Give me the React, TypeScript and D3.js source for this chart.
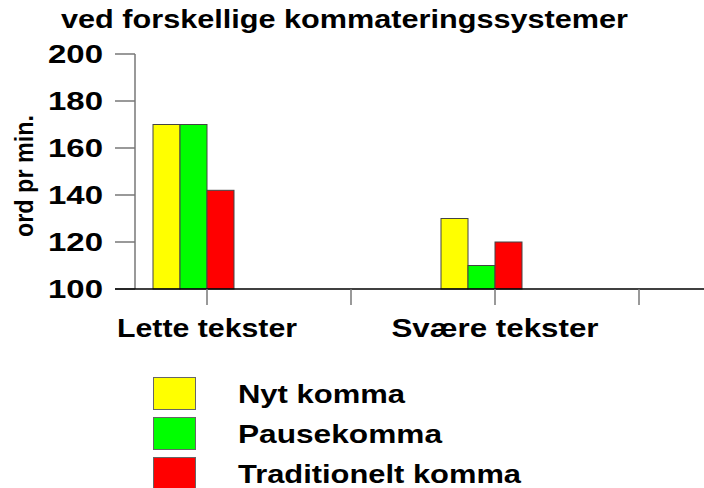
import * as d3 from 'd3'

const categories = ['Lette tekster', ' ', 'Svære tekster', '  ']
const series = ['Nyt komma', 'Pausekomma', 'Traditionelt komma']
const colors = ['#ffff00', '#00ff00', '#ff0000']
const nytKomma = [170, null, 130, null]
const pauseKomma = [170, null, 110, null]
const traditioneltKomma = [142, null, 120, null]
const yTicks = [100, 120, 140, 160, 180, 200]

const FONT = '"Liberation Sans", Arial, sans-serif'

export default function App() {
  const width = 704
  const height = 488
  const values = [nytKomma, pauseKomma, traditioneltKomma]

  const x = d3.scaleBand<string>().domain(categories).range([135, 711]).padding(0)
  // the original puts the tick between the 2nd and 3rd bar, not at the group centre
  const x1 = d3.scaleBand<string>().domain(series).range([-54, 27]).padding(0)
  const y = d3.scaleLinear().domain([100, 200]).range([289, 54])

  // text widths matched to the original (its glyphs are wider than Arial)
  const labelWidths: Record<string, number> = { 'Lette tekster': 180, 'Svære tekster': 207 }
  const legendWidths = [167, 204, 283]

  return (
    <svg
      width={width}
      height={height}
      style={{ position: 'absolute', left: 0, top: 0, background: '#fff' }}
      fontFamily={FONT}
    >
      <text x={61} y={28} fontSize={25} fontWeight="bold" textLength={567} lengthAdjust="spacingAndGlyphs">
        ved forskellige kommateringssystemer
      </text>

      {/* y axis */}
      <line x1={135} x2={135} y1={y(200)} y2={y(100)} stroke="#555" strokeWidth={1.2} />
      {yTicks.map(t => (
        <g key={t}>
          <line x1={115} x2={135} y1={y(t)} y2={y(t)} stroke="#777" strokeWidth={1.5} />
          <text
            x={48}
            y={y(t)}
            dy="0.36em"
            fontSize={25}
            fontWeight="bold"
            textLength={55}
            lengthAdjust="spacingAndGlyphs"
          >
            {t}
          </text>
        </g>
      ))}
      <text
        transform="translate(33,176) rotate(-90)"
        textAnchor="middle"
        fontSize={26}
        fontWeight="bold"
        textLength={122}
        lengthAdjust="spacingAndGlyphs"
      >
        ord pr min.
      </text>

      {/* bars */}
      {categories.map((c, ci) =>
        series.map((s, si) => {
          const v = values[si][ci]
          if (v == null) return null
          const cx = (x(c) || 0) + x.bandwidth() / 2
          return (
            <rect
              key={c + s}
              x={cx + (x1(s) || 0)}
              y={y(v)}
              width={x1.bandwidth()}
              height={y(100) - y(v)}
              fill={colors[si]}
              stroke="#444"
              strokeWidth={1}
            />
          )
        })
      )}

      {/* x axis */}
      <line x1={115} x2={width} y1={y(100)} y2={y(100)} stroke="#000" strokeWidth={1.5} />
      {categories.map(c => {
        const cx = (x(c) || 0) + x.bandwidth() / 2
        return (
          <g key={c}>
            <line x1={cx} x2={cx} y1={y(100)} y2={305} stroke="#777" strokeWidth={1.5} />
            {c.trim() && (
              <text
                x={cx - labelWidths[c] / 2}
                y={337}
                fontSize={25}
                fontWeight="bold"
                textLength={labelWidths[c]}
                lengthAdjust="spacingAndGlyphs"
              >
                {c}
              </text>
            )}
          </g>
        )
      })}

      {/* legend */}
      {series.map((s, i) => (
        <g key={s} transform={`translate(0,${377 + i * 40})`}>
          <rect x={153.5} y={0.5} width={42} height={32} fill={colors[i]} stroke="#666" strokeWidth={1} />
          <text
            x={238}
            y={26}
            fontSize={25}
            fontWeight="bold"
            textLength={legendWidths[i]}
            lengthAdjust="spacingAndGlyphs"
          >
            {s}
          </text>
        </g>
      ))}
    </svg>
  )
}
